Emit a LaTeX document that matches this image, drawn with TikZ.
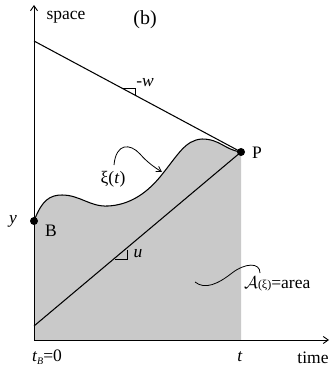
\documentclass[tikz,border=0pt]{standalone}
\usepackage{fontspec}
\setmainfont{Liberation Serif}
\usetikzlibrary{arrows.meta}
\begin{document}
\begin{tikzpicture}[x=1pt,y=-1pt,
  axis/.style={line width=1pt,-{Straight Barb[length=5pt,width=7pt,line width=0.9pt]}},
  ln/.style={line width=1.05pt},
  thin/.style={line width=0.8pt},
  lbl/.style={inner sep=0pt,font=\fontsize{17.5}{19}\selectfont},
  dot/.style={circle,fill=black,inner sep=0pt,minimum size=8pt},
  shade/.style={fill=black!21}]
\useasboundingbox (0,0) rectangle (332,366);
% key points
\coordinate (O) at (34,340);
\coordinate (Ytop) at (34,5);
\coordinate (Xend) at (329,340);
\coordinate (W0) at (34,41);
\coordinate (U0) at (34,326);
\coordinate (Bpt) at (34,221);
\coordinate (Ppt) at (241,152);
\coordinate (Pbot) at (241,340);
% shaded area under xi
\fill[shade] (Bpt) .. controls (42,200) and (50,195) .. (62,195)
  .. controls (80,195) and (90,207) .. (108,206)
  .. controls (128,205) and (145,195) .. (160,177)
  .. controls (178,155) and (185,140) .. (202,139)
  .. controls (220,139) and (225,150) .. (Ppt)
  -- (Pbot) -- (O) -- cycle;
\draw[ln] (Bpt) .. controls (42,200) and (50,195) .. (62,195)
  .. controls (80,195) and (90,207) .. (108,206)
  .. controls (128,205) and (145,195) .. (160,177)
  .. controls (178,155) and (185,140) .. (202,139)
  .. controls (220,139) and (225,150) .. (Ppt);
% axes
\draw[axis] (O) -- (Ytop);
\draw[axis] (O) -- (Xend);
% lines
\draw[ln] (W0) -- (Ppt);
\draw[ln] (U0) -- (Ppt);
% slope marks
\coordinate (wa) at (123,88.5);
\coordinate (wb) at (135,88.5);
\coordinate (wc) at (135,95.4);
\draw[thin] (wa) -- (wb) -- (wc);
\coordinate (ua) at (115,259.5);
\coordinate (ub) at (127,259.5);
\coordinate (uc) at (127,249.5);
\draw[thin] (ua) -- (ub) -- (uc);
% dots
\node[dot] (B) at (Bpt) {};
\node[dot] (P) at (Ppt) {};
% labels
\node[lbl] (space) at (66,17) {space};
\node[lbl,font=\fontsize{20}{22}\selectfont] (b) at (145,20) {(b)};
\node[lbl] (w) at (145,83) {-\textit{w}};
\node[lbl] (Pl) at (257,153) {P};
\node[lbl] (xi) at (113,179) {ξ(\textit{t})};
\node[lbl] (y) at (13,221) {\textit{y}};
\node[lbl] (Bl) at (51,231) {B};
\node[lbl] (u) at (138,254) {\textit{u}};
\node[lbl,anchor=west] (area) at (244,284) {$\mathcal{A}$\fontsize{12}{14}\selectfont(ξ)\fontsize{17.5}{19}\selectfont=area};
\node[lbl] (tB) at (47,357) {\textit{t}\raisebox{-0.35ex}{\fontsize{10}{11}\selectfont\textit{B}}=0};
\node[lbl] (t) at (240,357) {\textit{t}};
\node[lbl] (time) at (313,358) {time};
% squiggles
\coordinate (xs) at (114,165);
\coordinate (xe) at (162,172);
\draw[thin,-{Straight Barb[length=5pt,width=6pt]}] (xs) .. controls (116,143) and (130,143) .. (140,154)
  .. controls (147,162) and (154,167) .. (xe);
\coordinate (as) at (195,282);
\coordinate (ae) at (260,273);
\draw[thin] (as) .. controls (205,290) and (218,284) .. (232,273)
  .. controls (245,263) and (260,262) .. (ae);
\end{tikzpicture}
\end{document}
